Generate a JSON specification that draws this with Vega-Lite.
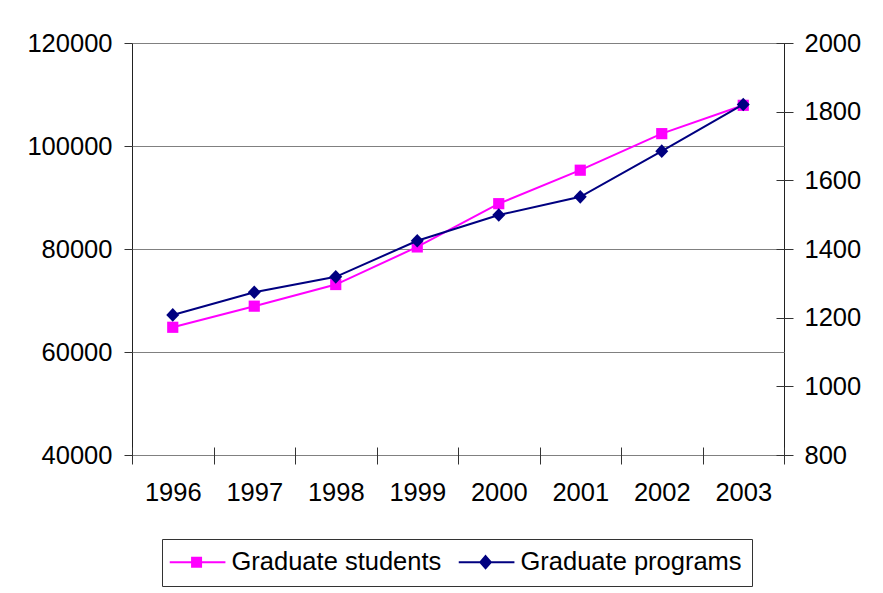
{
  "$schema": "https://vega.github.io/schema/vega-lite/v6.json",
  "width": 652,
  "height": 412,
  "autosize": {"type": "none"},
  "padding": {"left": 132, "top": 43, "right": 99, "bottom": 138},
  "background": "#ffffff",
  "config": {
    "font": "Liberation Sans",
    "view": {"stroke": "#222222", "strokeWidth": 1},
    "axis": {"labelFont": "Liberation Sans", "labelFontSize": 25.5, "labelColor": "#000000", "tickColor": "#333333", "tickWidth": 1, "title": null}
  },
  "data": {
    "values": [
      {"year": "1996", "students": 64800, "programs": 1208},
      {"year": "1997", "students": 68900, "programs": 1274},
      {"year": "1998", "students": 73100, "programs": 1319},
      {"year": "1999", "students": 80400, "programs": 1424},
      {"year": "2000", "students": 88800, "programs": 1499},
      {"year": "2001", "students": 95300, "programs": 1552},
      {"year": "2002", "students": 102400, "programs": 1685},
      {"year": "2003", "students": 107900, "programs": 1821}
    ]
  },
  "encoding": {
    "x": {
      "field": "year",
      "type": "ordinal",
      "bandPosition": 0.5,
      "scale": {"type": "band", "paddingInner": 0, "paddingOuter": 0},
      "axis": {"title": null, "labelAngle": 0, "tickBand": "extent", "tickSize": 17, "offset": -8, "domain": false, "labelPadding": 16, "grid": false}
    }
  },
  "layer": [
    {
      "encoding": {
        "y": {
          "field": "students",
          "type": "quantitative",
          "scale": {"domain": [40000, 120000], "nice": false, "zero": false},
          "axis": {"orient": "left", "values": [40000, 60000, 80000, 100000, 120000], "format": "d", "title": null, "grid": true, "gridColor": "#808080", "gridWidth": 1, "domain": false, "tickSize": 8, "labelPadding": 12}
        },
        "color": {
          "datum": "Graduate students",
          "type": "nominal",
          "scale": {"domain": ["Graduate students", "Graduate programs"], "range": ["#ff00ff", "#000080"]},
          "legend": {
            "orient": "none",
            "legendX": 30,
            "legendY": 496,
            "direction": "horizontal",
            "title": null,
            "strokeColor": "#333333",
            "padding": 10,
            "labelFont": "Liberation Sans",
            "labelFontSize": 25.5,
            "labelColor": "#000000",
            "labelLimit": 500,
            "labelOffset": 34,
            "columnPadding": 12,
            "symbolSize": 144,
            "symbolStrokeWidth": 2,
            "encode": {
              "symbols": {
                "update": {
                  "shape": {"signal": "datum.value === 'Graduate students' ? 'M-2.5,0H6.78M1.22,-0.75H2.72V0.75H1.22Z' : 'M-2.5,0H6.78M1.97,-1L2.85,0L1.97,1L1.09,0Z'"},
                  "fill": {"signal": "datum.value === 'Graduate students' ? '#ff00ff' : '#000080'"},
                  "stroke": {"signal": "datum.value === 'Graduate students' ? '#ff00ff' : '#000080'"},
                  "strokeWidth": {"value": 2},
                  "opacity": {"value": 1}
                }
              }
            }
          }
        }
      },
      "layer": [
        {"mark": {"type": "line", "strokeWidth": 2}},
        {"mark": {"type": "point", "shape": "square", "filled": true, "size": 125, "opacity": 1}}
      ]
    },
    {
      "encoding": {
        "y": {
          "field": "programs",
          "type": "quantitative",
          "scale": {"domain": [800, 2000], "nice": false, "zero": false},
          "axis": {"orient": "right", "values": [800, 1000, 1200, 1400, 1600, 1800, 2000], "format": "d", "title": null, "grid": false, "domain": false, "offset": -8, "tickSize": 17, "labelPadding": 11}
        },
        "color": {
          "datum": "Graduate programs",
          "type": "nominal"
        }
      },
      "layer": [
        {"mark": {"type": "line", "strokeWidth": 2}},
        {"mark": {"type": "point", "shape": "M0,-1.05L1,0L0,1.05L-1,0Z", "filled": true, "size": 169, "opacity": 1}}
      ]
    }
  ],
  "resolve": {"scale": {"y": "independent"}}
}
